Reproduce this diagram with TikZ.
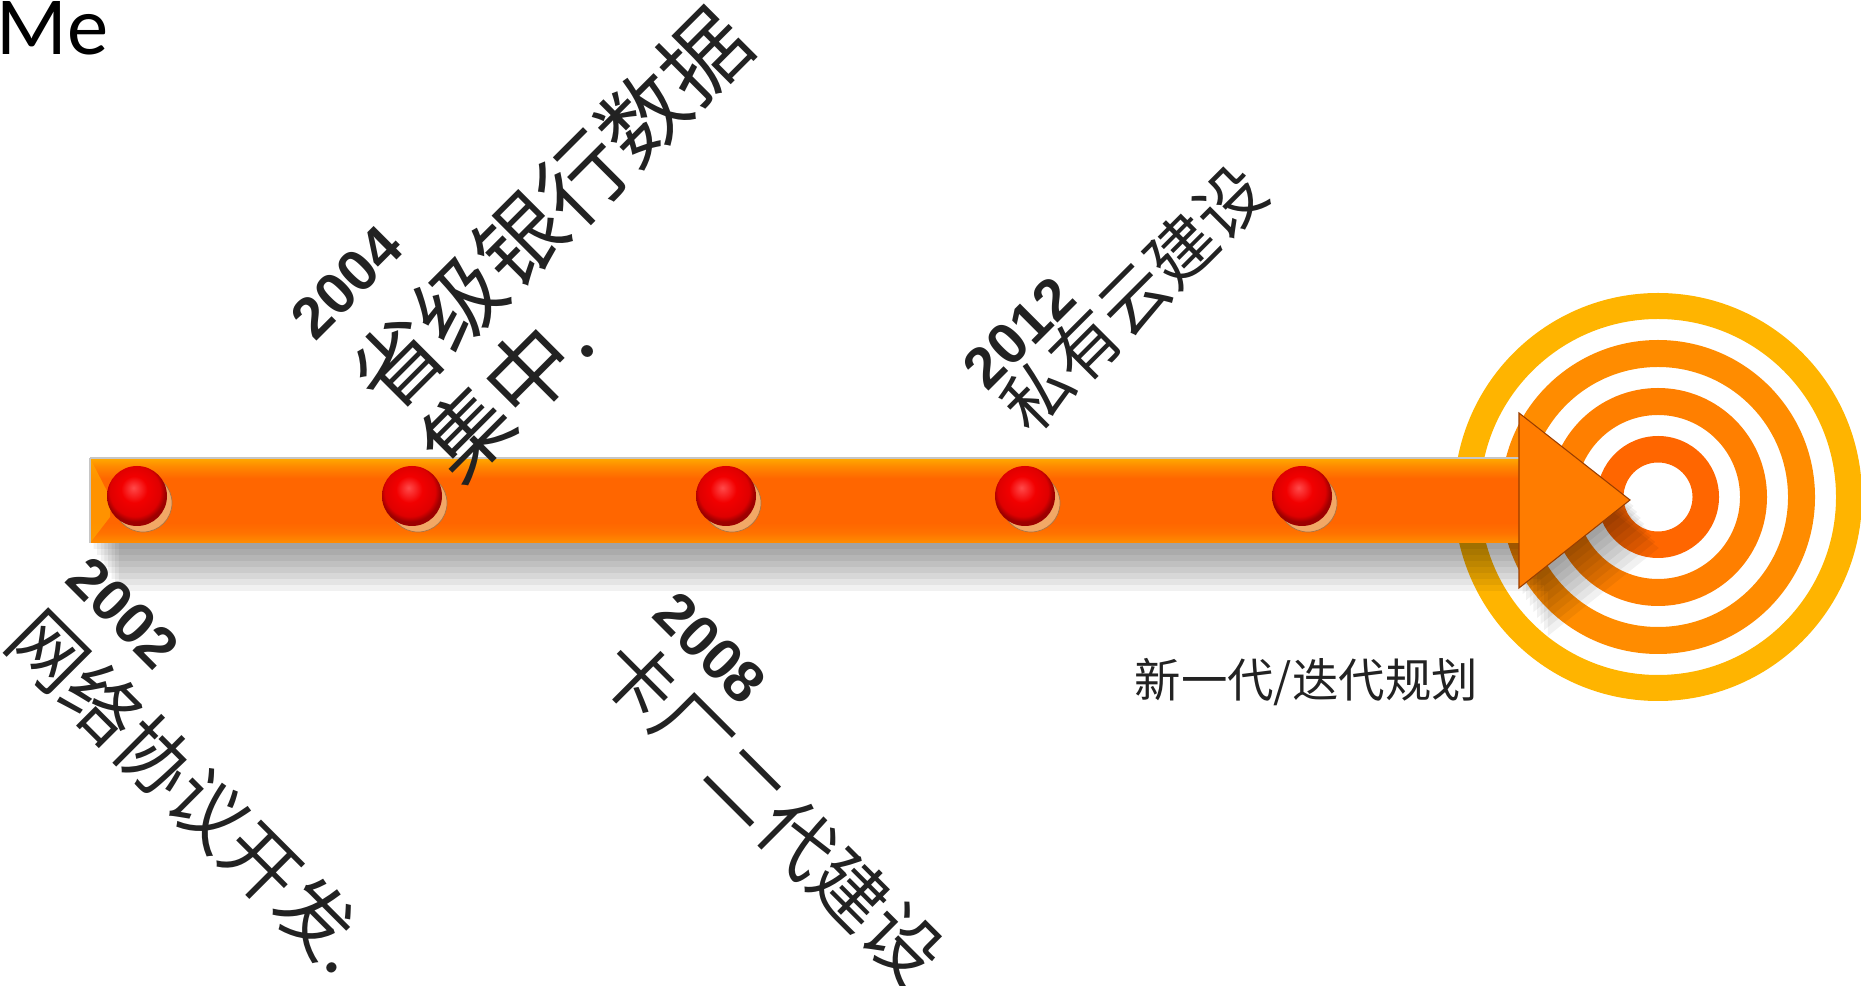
\documentclass[tikz,border=0pt]{standalone}
\usepackage{fontspec}
\setmainfont{Liberation Sans}
\newfontfamily\cjk{Noto Sans CJK SC}
\newfontfamily\calibri{Carlito}
\usetikzlibrary{calc}

\definecolor{ringA}{HTML}{FFB400}
\definecolor{ringB}{HTML}{FF8C00}
\definecolor{ringC}{HTML}{FF7F00}
\definecolor{ringD}{HTML}{FF6600}
\definecolor{txt}{HTML}{222222}
\definecolor{shaftmid}{HTML}{FF6600}
\definecolor{shaftlow}{HTML}{FF8E00}
\definecolor{shafttop}{HTML}{FFAA00}
\definecolor{headtop}{HTML}{FF7C00}
\definecolor{ballred}{HTML}{F20000}
\definecolor{ballhi}{HTML}{FF4A4A}
\definecolor{ballshadow}{HTML}{F2A866}

\pgfdeclareverticalshading{shaftfill}{100bp}{color(0bp)=(shaftlow); color(25bp)=(shaftlow);
  color(31bp)=(shaftmid!70!shaftlow); color(37bp)=(shaftmid); color(63bp)=(shaftmid);
  color(70bp)=(shaftmid!50!shafttop); color(75bp)=(shafttop); color(100bp)=(shafttop)}
\pgfdeclareradialshading{redball}{\pgfpoint{-3bp}{7bp}}{color(0bp)=(ballhi); color(11bp)=(ballred);
  color(21bp)=(ballred!92!black); color(25bp)=(ballred!65!black); color(50bp)=(ballred!65!black)}

\begin{document}
\begin{tikzpicture}[x=0.01cm, y=-0.01cm,
    year/.style={font=\fontsize{16.5}{18}\selectfont\bfseries, text=txt, inner sep=0pt, anchor=base west},
    event/.style={text=txt, inner sep=0pt, anchor=base west}]
  \useasboundingbox (0,0) rectangle (1861,986);

  % target
  \coordinate (target) at (1658,497);
  \fill[ringA, even odd rule] (target) circle (204) circle (178);
  \fill[ringB, even odd rule] (target) circle (157) circle (130);
  \fill[ringC, even odd rule] (target) circle (109) circle (82);
  \fill[ringD, even odd rule] (target) circle (61) circle (34.5);

  % soft shadow of the arrow
  \foreach \d in {6,12,...,48}
    \fill[black, opacity=0.055, shift={(0.6*\d,\d)}] (90,458) -- (1519,458) -- (1519,413) -- (1630,500)
      -- (1519,588) -- (1519,543) -- (90,543) -- cycle;

  % arrow
  \coordinate (tail) at (90,500);
  \coordinate (tip) at (1630,500);
  \shade[shading=shaftfill] (90,458) rectangle (1520,543);
  \fill[orange!70!yellow, opacity=0.7] (90,458) -- (110,497) -- (110,517) -- (90,543) -- cycle;
  \draw[gray!45, line width=0.4pt] (90,458) -- (1519,458);
  \draw[gray!45, line width=0.3pt] (90,458) -- (90,543);
  \shade[top color=headtop, middle color=ringD, bottom color=headtop, draw=ringD!60!black, line width=0.3pt]
    (1519,413) -- (tip) -- (1519,588) -- cycle;

  % milestones
  \foreach \x [count=\i] in {137,412,726,1025,1302} {
    \coordinate (b\i) at (\x,496);
    \fill[ballshadow, draw=ballshadow!70!black, line width=0.2pt] ($(b\i)+(6,7)$) circle (29);
    \shade[shading=redball] (b\i) circle (30);
  }

  \node[anchor=base west, inner sep=0pt, font=\calibri\fontsize{23.5}{27}\selectfont] (me) at (-4,55) {Me};

  \node[year, rotate=-45] (y2002) at (62.9,580.6) {2002};
  \node[event, rotate=-45, font=\cjk\fontsize{21.4}{24}\selectfont] (e2002) at (2,643.6) {网络协议开发.};

  \node[year, rotate=45] (y2004) at (314.8,342.8) {2004};
  \node[event, rotate=45, font=\cjk\fontsize{24.7}{28}\selectfont] (e2004a) at (389.3,417.3) {省级银行数据};
  \node[event, rotate=45, font=\cjk\fontsize{24.7}{28}\selectfont] (e2004b) at (459.3,487.3) {集中.};

  \node[year, rotate=-45] (y2008) at (649.9,616) {2008};
  \node[event, rotate=-45, font=\cjk\fontsize{21.2}{24}\selectfont] (e2008) at (593.3,672.5) {卡厂二代建设};

  \node[year, rotate=45] (y2012) at (987.2,393.2) {2012};
  \node[event, rotate=45, font=\cjk\fontsize{19.35}{22}\selectfont] (e2012) at (1031,437) {私有云建设};

  \node[event, font=\cjk\fontsize{13.2}{15}\selectfont] (plan) at (1134,698) {新一代/迭代规划};
\end{tikzpicture}
\end{document}
